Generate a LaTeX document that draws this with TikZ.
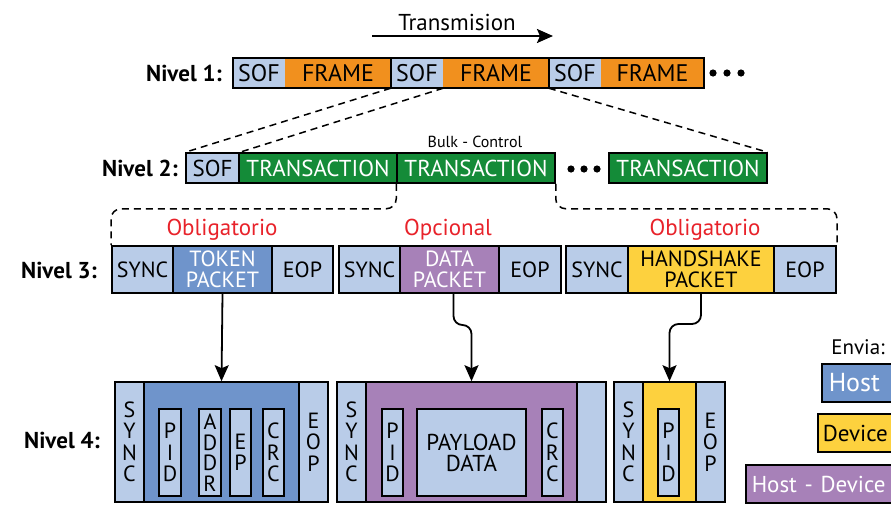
\documentclass[tikz,border=0pt]{standalone}
\usepackage{fontspec}
\setmainfont{PT Sans}
\usetikzlibrary{arrows.meta}

\definecolor{lblue}{RGB}{185,204,232}
\definecolor{orng}{RGB}{241,144,30}
\definecolor{grn}{RGB}{20,139,56}
\definecolor{tokblue}{RGB}{111,148,203}
\definecolor{purp}{RGB}{167,129,184}
\definecolor{yel}{RGB}{253,209,62}
\definecolor{redtxt}{RGB}{232,34,42}

\newcommand{\fsz}[2]{\fontsize{#1}{#2}\selectfont}
% box from x1 to x2 and y1 to y2: name, x1, x2, y1, y2, style, text
\newcommand{\bx}[7]{\node[#6, minimum width={#3-#2}, minimum height={#5-#4}] (#1) at ({(#2+#3)/2},{(#4+#5)/2}) {#7};}

\tikzset{
  plain/.style={inner sep=0pt, font=\fsz{24}{26}},
  fld/.style={draw=black, line width=1.5pt, inner sep=0pt, font=\fsz{23}{26}},
  fldthree/.style={draw=black, line width=2pt, inner sep=0pt, align=center, font=\fsz{22}{21}},
  fldfour/.style={draw=black, line width=1.6pt, inner sep=0pt, align=center, font=\fsz{22}{21.5}},
  level/.style={font=\bfseries\fsz{23}{26}, anchor=east, inner sep=0pt},
  need/.style={font=\fsz{23}{26}, text=redtxt, inner sep=0pt},
  dashline/.style={line width=1.5pt, dash pattern=on 7pt off 5pt},
  flow/.style={line width=1.8pt, -{Stealth[length=16pt,width=14pt,inset=3pt]}},
  legend/.style={draw=black, line width=1.5pt, inner xsep=7pt, anchor=west, align=left, minimum height=38pt},
}

\begin{document}
\begin{tikzpicture}[x=1pt,y=-1pt]
\useasboundingbox (0,0) rectangle (891,504);
\clip (0,0) rectangle (891,504);

% ---- direction of transmission
\node[plain, font=\fsz{23}{26}] (tx) at (457,22) {Transmision};
\coordinate (ta) at (372,36);
\coordinate (tb) at (553,36);
\draw[flow, line width=2.2pt] (ta) -- (tb);

% ---- level 1: frames
\node[level] (n1) at (222,73) {Nivel 1:};
\bx{sofa}{233}{285}{58}{88}{plain,fill=lblue}{SOF}
\bx{fra}{285}{391}{58}{88}{plain,fill=orng}{FRAME}
\bx{sofb}{391}{443}{58}{88}{plain,fill=lblue}{SOF}
\bx{frb}{443}{549}{58}{88}{plain,fill=orng}{FRAME}
\bx{sofc}{549}{601}{58}{88}{plain,fill=lblue}{SOF}
\bx{frc}{601}{704}{58}{88}{plain,fill=orng}{FRAME}
\draw[line width=1.5pt] (sofa.north west) rectangle (fra.south east);
\draw[line width=1.5pt] (sofb.north west) rectangle (frb.south east);
\draw[line width=1.5pt] (sofc.north west) rectangle (frc.south east);
\foreach \x in {713,727,741} \fill (\x,73) circle (3.6);

% ---- level 2: transactions
\node[level] (n2) at (178,168) {Nivel 2:};
\bx{sofl}{186}{239}{153}{183}{fld,fill=lblue}{SOF}
\bx{ta1}{239}{397}{153}{183}{fld,fill=grn,text=white}{TRANSACTION}
\bx{ta2}{397}{555}{153}{183}{fld,fill=grn,text=white}{TRANSACTION}
\bx{ta3}{609}{767}{153}{183}{fld,fill=grn,text=white}{TRANSACTION}
\node[inner sep=0pt, font=\fsz{16}{18}] (bulk) at (475,142) {Bulk - Control};
\foreach \x in {571,584,597} \fill (\x,169) circle (3.6);

% frame expanded into level 2
\draw[dashline] (sofb.south west) -- (sofl.north west);
\draw[dashline] (sofb.south east) -- (sofl.north east);
\draw[dashline] (sofc.south west) -- (ta3.north east);

% ---- level 3: packets
\node[level] (n3) at (97,270) {Nivel 3:};
\bx{sya}{112}{173}{246}{293}{fldthree,fill=lblue}{SYNC}
\bx{tok}{173}{272}{246}{293}{fldthree,fill=tokblue,text=white}{TOKEN\\PACKET}
\bx{eoa}{272}{333}{246}{293}{fldthree,fill=lblue}{EOP}
\bx{syb}{339}{400}{246}{293}{fldthree,fill=lblue}{SYNC}
\bx{dat}{400}{499}{246}{293}{fldthree,fill=purp,text=white}{DATA\\PACKET}
\bx{eob}{499}{561}{246}{293}{fldthree,fill=lblue}{EOP}
\bx{syc}{566}{628}{246}{293}{fldthree,fill=lblue}{SYNC}
\bx{hsk}{628}{774}{246}{293}{fldthree,fill=yel}{HANDSHAKE\\PACKET}
\bx{eoc}{774}{836}{246}{293}{fldthree,fill=lblue}{EOP}
\node[need] (oa) at (222,230) {Obligatorio};
\node[need] (ob) at (448,230) {Opcional};
\node[need] (oc) at (705,230) {Obligatorio};

% transaction expanded into level 3
\draw[dashline, rounded corners=10pt] (ta2.south west) -- ++(0,25) -| (sya.north west);
\draw[dashline, rounded corners=10pt] (ta2.south east) -- ++(0,25) -| (eoc.north east);

% ---- level 4: packet fields
\node[level] (n4) at (100,440) {Nivel 4:};
% token packet
\bx{sy4a}{115}{144}{382}{502}{fldfour,fill=lblue}{S\\Y\\N\\C}
\bx{tk4}{144}{299}{382}{502}{fldfour,fill=tokblue}{}
\bx{eo4a}{299}{328}{382}{502}{fldfour,fill=lblue}{E\\O\\P}
\bx{pida}{159}{181}{409}{496}{fldfour,fill=lblue}{P\\I\\D}
\bx{addr}{199}{221}{409}{496}{fldfour,fill=lblue,font=\fsz{22}{20.5}}{A\\D\\D\\R}
\bx{endp}{230}{251}{409}{496}{fldfour,fill=lblue}{E\\P}
\bx{crca}{263}{284}{409}{496}{fldfour,fill=lblue}{C\\R\\C}
% data packet
\bx{sy4b}{337}{366}{382}{502}{fldfour,fill=lblue}{S\\Y\\N\\C}
\bx{dt4}{366}{577}{382}{502}{fldfour,fill=purp}{}
\bx{eo4b}{577}{606}{382}{502}{fldfour,fill=lblue}{}
\bx{pidb}{382}{403}{409}{496}{fldfour,fill=lblue}{P\\I\\D}
\bx{pay}{417}{526}{409}{496}{fldfour,fill=lblue,font=\fsz{23}{21}}{PAYLOAD\\DATA}
\bx{crcb}{542}{563}{409}{496}{fldfour,fill=lblue}{C\\R\\C}
% handshake packet
\bx{sy4c}{614}{643}{382}{502}{fldfour,fill=lblue}{S\\Y\\N\\C}
\bx{hs4}{643}{696}{382}{502}{fldfour,fill=yel}{}
\bx{eo4c}{696}{725}{382}{502}{fldfour,fill=lblue}{E\\O\\P}
\bx{pidc}{658}{679}{409}{496}{fldfour,fill=lblue}{P\\I\\D}

% packets expanded into level 4
\draw[flow] (tok.south) -- (tk4.north);
\draw[flow, rounded corners=9pt] ([xshift=4pt]dat.south) -- ++(0,31) -| (dt4.north);
\draw[flow, rounded corners=9pt] (hsk.south) -- ++(0,30) -| (hs4.north);

% ---- legend: who sends
\node[inner sep=0pt, font=\fsz{21}{24}] (envia) at (858,347) {Envia:};
\node[legend, fill=tokblue, text=white, font=\fsz{26}{28}, text width=70pt] (lhost) at (821,383) {Host};
\node[legend, fill=yel, font=\fsz{23}{26}, text width=76pt, inner xsep=5pt] (ldev) at (817,433) {Device};
\node[legend, fill=purp, text=white, font=\fsz{23}{26}, text width=150pt, inner xsep=6pt] (lboth) at (745,484) {Host - Device};
\end{tikzpicture}
\end{document}
